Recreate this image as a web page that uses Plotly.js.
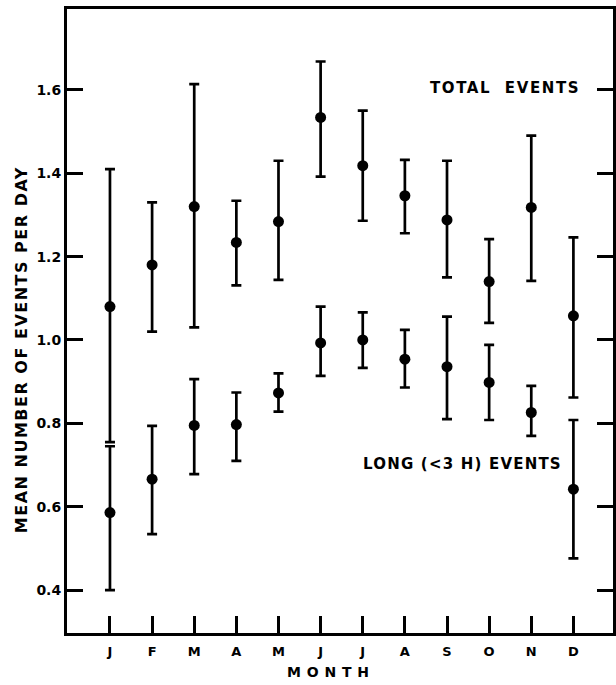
<!DOCTYPE html>
<html>
<head>
<meta charset="utf-8">
<script src="https://cdn.plot.ly/plotly-3.0.1.min.js"></script>
<style>
html, body { margin: 0; padding: 0; background: #fff; }
#chart { width: 616px; height: 685px; }
</style>
</head>
<body>
<div id="chart"></div>
<script>
// Month positions and labels
const monthPos = [1, 2, 3, 4, 5, 6, 7, 8, 9, 10, 11, 12];
const monthLabels = ["J", "F", "M", "A", "M", "J", "J", "A", "S", "O", "N", "D"];

// Total events: mean, upper and lower ends of the bars
const totalMean  = [1.08, 1.18, 1.32, 1.234, 1.284, 1.534, 1.418, 1.346, 1.288, 1.14, 1.318, 1.058];
const totalUpper = [1.41, 1.33, 1.614, 1.334, 1.43, 1.668, 1.55, 1.432, 1.43, 1.242, 1.49, 1.246];
const totalLower = [0.755, 1.02, 1.03, 1.131, 1.144, 1.392, 1.286, 1.256, 1.15, 1.041, 1.142, 0.862];

// Long (<3 h) events
const longMean  = [0.586, 0.666, 0.795, 0.797, 0.873, 0.993, 1.0, 0.954, 0.936, 0.898, 0.826, 0.642];
const longUpper = [0.745, 0.794, 0.906, 0.874, 0.92, 1.08, 1.066, 1.024, 1.056, 0.988, 0.89, 0.808];
const longLower = [0.40, 0.534, 0.678, 0.71, 0.828, 0.914, 0.933, 0.886, 0.81, 0.808, 0.77, 0.476];

const yTicks = [0.4, 0.6, 0.8, 1.0, 1.2, 1.4, 1.6];
const yTickText = ["0.4", "0.6", "0.8", "1.0", "1.2", "1.4", "1.6"];

const FONT = "DejaVu Sans, Verdana, sans-serif";

function seriesTrace(mean, upper, lower, name) {
  return {
    type: "scatter",
    mode: "markers",
    name: name,
    x: monthPos,
    y: mean,
    marker: { color: "#000", size: 11 },
    error_y: {
      type: "data",
      symmetric: false,
      array: upper.map((u, i) => u - mean[i]),
      arrayminus: lower.map((l, i) => mean[i] - l),
      color: "#000",
      thickness: 2.7,
      width: 5
    },
    showlegend: false,
    hoverinfo: "x+y"
  };
}

const data = [
  seriesTrace(totalMean, totalUpper, totalLower, "Total events"),
  seriesTrace(longMean, longUpper, longLower, "Long (<3 h) events")
];

const layout = {
  width: 616,
  height: 685,
  margin: { l: 67, r: 3, t: 9, b: 52 },
  paper_bgcolor: "#fff",
  plot_bgcolor: "#fff",
  font: { family: FONT, size: 14, color: "#000", weight: "bold" },
  xaxis: {
    range: [-0.02, 12.94],
    tickvals: monthPos,
    ticktext: monthLabels,
    ticks: "inside",
    ticklen: 17,
    tickwidth: 3,
    tickcolor: "#000",
    showline: true,
    linewidth: 3,
    linecolor: "#000",
    mirror: true,
    showgrid: false,
    zeroline: false,
    ticklabelstandoff: 4,
    tickfont: { family: FONT, size: 13, weight: "bold", color: "#000" }
  },
  yaxis: {
    range: [0.297, 1.794],
    tickvals: yTicks,
    ticktext: yTickText,
    ticks: "inside",
    ticklen: 16,
    tickwidth: 3,
    tickcolor: "#000",
    showline: true,
    linewidth: 3,
    linecolor: "#000",
    mirror: "ticks",
    showgrid: false,
    zeroline: false,
    ticklabelstandoff: 0,
    tickfont: { family: FONT, size: 14, weight: "bold", color: "#000" }
  },
  annotations: [
    {
      text: '<span style="letter-spacing:1.6px">TOTAL  EVENTS</span>',
      xref: "x", yref: "y", x: 10.37, y: 1.605,
      showarrow: false, xanchor: "center", yanchor: "middle",
      font: { family: FONT, size: 15, weight: "bold", color: "#000" }
    },
    {
      text: '<span style="letter-spacing:1.2px">LONG (&lt;3 H) EVENTS</span>',
      xref: "x", yref: "y", x: 9.37, y: 0.702,
      showarrow: false, xanchor: "center", yanchor: "middle",
      font: { family: FONT, size: 15, weight: "bold", color: "#000" }
    },
    {
      text: '<span style="letter-spacing:1.5px">MEAN NUMBER OF EVENTS PER DAY</span>',
      xref: "paper", yref: "paper", x: -0.084, y: 0.4535,
      textangle: -90,
      showarrow: false, xanchor: "center", yanchor: "middle",
      font: { family: FONT, size: 16, weight: "bold", color: "#000" }
    },
    {
      text: '<span style="letter-spacing:5.8px">MONTH</span>',
      xref: "paper", yref: "paper", x: 0.4835, y: -0.0625,
      showarrow: false, xanchor: "center", yanchor: "middle",
      font: { family: FONT, size: 14, weight: "bold", color: "#000" }
    }
  ]
};

Plotly.newPlot("chart", data, layout, { displayModeBar: false, staticPlot: true });
</script>
</body>
</html>
